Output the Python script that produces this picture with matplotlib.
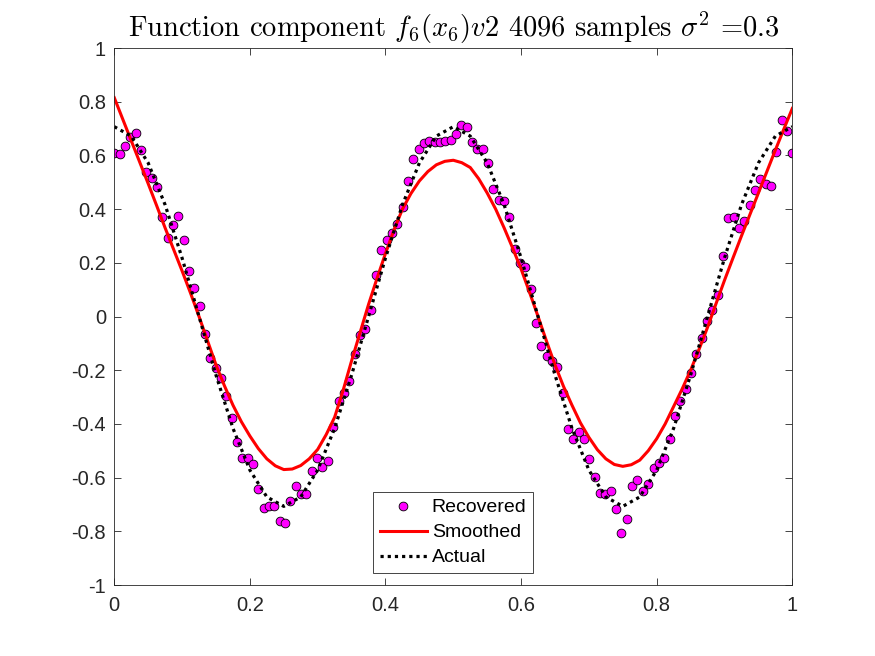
import numpy as np
import matplotlib
matplotlib.use('Agg')
from matplotlib import pyplot as plt

# recovered samples, 128 points on [0, 1]
recovered = [
    0.608, 0.604, 0.635, 0.670, 0.685, 0.620, 0.540, 0.515, 0.483, 0.372,
    0.293, 0.340, 0.375, 0.285, 0.171, 0.107, 0.039, -0.066, -0.156, -0.190,
    -0.228, -0.296, -0.377, -0.466, -0.526, -0.528, -0.549, -0.642, -0.712, -0.706,
    -0.706, -0.760, -0.770, -0.687, -0.631, -0.661, -0.661, -0.575, -0.526, -0.559,
    -0.539, -0.413, -0.313, -0.286, -0.239, -0.140, -0.070, -0.045, 0.024, 0.153,
    0.248, 0.285, 0.312, 0.345, 0.407, 0.506, 0.585, 0.625, 0.645, 0.652,
    0.650, 0.650, 0.652, 0.657, 0.680, 0.714, 0.705, 0.650, 0.625, 0.623,
    0.573, 0.476, 0.434, 0.431, 0.369, 0.253, 0.198, 0.186, 0.104, -0.025,
    -0.109, -0.146, -0.166, -0.187, -0.286, -0.420, -0.457, -0.429, -0.457, -0.530,
    -0.599, -0.656, -0.662, -0.649, -0.717, -0.805, -0.753, -0.630, -0.610, -0.649,
    -0.623, -0.566, -0.545, -0.527, -0.457, -0.370, -0.314, -0.271, -0.212, -0.141,
    -0.079, -0.017, 0.024, 0.079, 0.226, 0.368, 0.372, 0.331, 0.357, 0.414,
    0.471, 0.513, 0.493, 0.486, 0.611, 0.732, 0.690, 0.608,
]
x_rec = np.linspace(0, 1, len(recovered))

# smoothed fit, read every 0.0125
smoothed = [
    0.815, 0.735, 0.655, 0.575, 0.495, 0.413, 0.330, 0.250, 0.170, 0.087,
    0.000, -0.090, -0.180, -0.258, -0.330, -0.392, -0.445, -0.492, -0.530, -0.556,
    -0.570, -0.568, -0.555, -0.530, -0.495, -0.440, -0.375, -0.275, -0.165, -0.060,
    0.045, 0.142, 0.235, 0.322, 0.400, 0.458, 0.505, 0.540, 0.565, 0.578,
    0.582, 0.573, 0.555, 0.513, 0.460, 0.400, 0.330, 0.255, 0.177, 0.090,
    0.000, -0.092, -0.180, -0.260, -0.330, -0.396, -0.450, -0.496, -0.530, -0.551,
    -0.558, -0.552, -0.535, -0.500, -0.455, -0.400, -0.335, -0.270, -0.200, -0.122,
    -0.040, 0.048, 0.135, 0.218, 0.300, 0.380, 0.460, 0.540, 0.620, 0.698,
    0.775,
]
x_smooth = np.linspace(0, 1, len(smoothed))

# actual component, read every 0.025
actual = [
    0.707, 0.672, 0.572, 0.416, 0.218, 0.000, -0.218, -0.416, -0.572, -0.672,
    -0.707, -0.672, -0.572, -0.416, -0.218, 0.000, 0.218, 0.416, 0.572, 0.672,
    0.707, 0.672, 0.572, 0.416, 0.218, 0.000, -0.218, -0.416, -0.572, -0.672,
    -0.707, -0.672, -0.572, -0.416, -0.218, 0.000, 0.218, 0.416, 0.572, 0.672,
    0.707,
]
x_act = np.linspace(0, 1, len(actual))

xticks = [0, 0.2, 0.4, 0.6, 0.8, 1]
xtick_labels = ['0', '0.2', '0.4', '0.6', '0.8', '1']
yticks = [-1, -0.8, -0.6, -0.4, -0.2, 0, 0.2, 0.4, 0.6, 0.8, 1]
ytick_labels = ['-1', '-0.8', '-0.6', '-0.4', '-0.2', '0', '0.2', '0.4', '0.6', '0.8', '1']

plt.rcParams['font.family'] = ['Liberation Sans', 'DejaVu Sans']
plt.rcParams['mathtext.fontset'] = 'cm'

axcol = '#262626'
fig = plt.figure(figsize=(8.75, 6.56), dpi=100)
ax = fig.add_axes([0.1306, 0.1082, 0.7749, 0.8186])

ax.plot(x_rec, recovered, 'o', color='#ff00ff', markeredgecolor='black',
        markeredgewidth=0.6, markersize=6.3, label='Recovered')
ax.plot(x_smooth, smoothed, '-', color='red', linewidth=2.2, label='Smoothed')
ax.plot(x_act, actual, color='black', linewidth=2.3, dashes=(1, 1.25),
        label='Actual')

ax.set_xlim(0, 1)
ax.set_ylim(-1, 1)
ax.set_xticks(xticks)
ax.set_xticklabels(xtick_labels)
ax.set_yticks(yticks)
ax.set_yticklabels(ytick_labels)
ax.tick_params(direction='in', length=5, width=0.6, colors=axcol,
               labelsize=14.5, top=True, right=True)
ax.tick_params(axis='x', pad=8)
ax.tick_params(axis='y', pad=6)
for lab in ax.get_xticklabels() + ax.get_yticklabels():
    lab.set_color(axcol)
for s in ax.spines.values():
    s.set_color(axcol)
    s.set_linewidth(0.6)

ax.set_title('Function component $f_6(x_6)v2$ 4096 samples $\\sigma^2$ =0.3',
             family='cmr10', fontsize=20.5, color='black', pad=8)

leg = ax.legend(loc='lower center', bbox_to_anchor=(0.5, 0.022), fontsize=14,
                fancybox=False, framealpha=1, edgecolor=axcol,
                handlelength=2.4, borderpad=0.35, labelspacing=0.38,
                handletextpad=0.25, borderaxespad=0)
leg.get_frame().set_linewidth(0.6)

fig.savefig('out.png', dpi=100)
